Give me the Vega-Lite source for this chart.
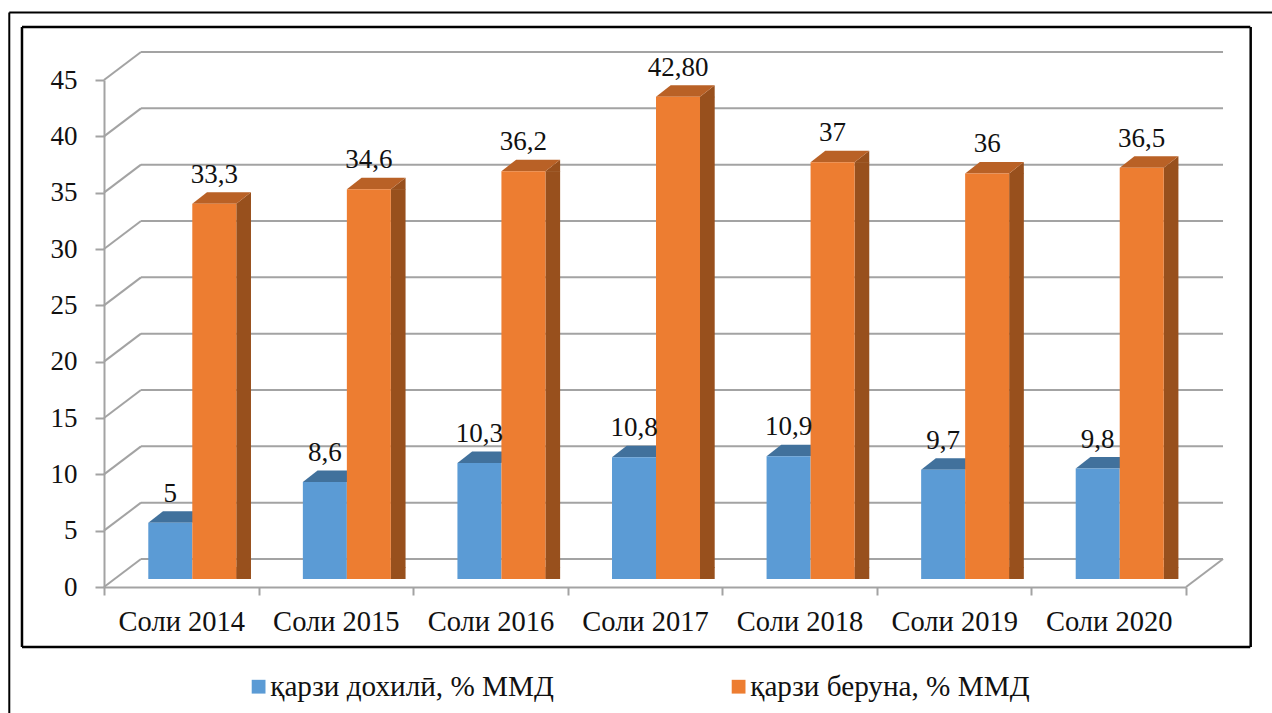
{
"$schema":"https://vega.github.io/schema/vega-lite/v6.json",
"width":1082,"height":507,
"autosize":"none",
"padding":{"left":104,"top":80,"right":86,"bottom":126},
"background":"white",
"config":{"view":{"stroke":null},"font":"Liberation Serif"},
"datasets":{
"bars":[
{"year":"Соли 2014","series":"қарзи дохилӣ, % ММД","value":5,"label":"5"},
{"year":"Соли 2015","series":"қарзи дохилӣ, % ММД","value":8.6,"label":"8,6"},
{"year":"Соли 2016","series":"қарзи дохилӣ, % ММД","value":10.3,"label":"10,3"},
{"year":"Соли 2017","series":"қарзи дохилӣ, % ММД","value":10.8,"label":"10,8"},
{"year":"Соли 2018","series":"қарзи дохилӣ, % ММД","value":10.9,"label":"10,9"},
{"year":"Соли 2019","series":"қарзи дохилӣ, % ММД","value":9.7,"label":"9,7"},
{"year":"Соли 2020","series":"қарзи дохилӣ, % ММД","value":9.8,"label":"9,8"},
{"year":"Соли 2014","series":"қарзи беруна, % ММД","value":33.3,"label":"33,3"},
{"year":"Соли 2015","series":"қарзи беруна, % ММД","value":34.6,"label":"34,6"},
{"year":"Соли 2016","series":"қарзи беруна, % ММД","value":36.2,"label":"36,2"},
{"year":"Соли 2017","series":"қарзи беруна, % ММД","value":42.8,"label":"42,80"},
{"year":"Соли 2018","series":"қарзи беруна, % ММД","value":37,"label":"37"},
{"year":"Соли 2019","series":"қарзи беруна, % ММД","value":36,"label":"36"},
{"year":"Соли 2020","series":"қарзи беруна, % ММД","value":36.5,"label":"36,5"}
],
"grid":[{"g":0},{"g":5},{"g":10},{"g":15},{"g":20},{"g":25},{"g":30},{"g":35},{"g":40},{"g":45}],
"one":[{"k":1}]
},
"layer":[
{"data":{"name":"grid"},
 "mark":{"type":"rule","color":"#A3A3A3","strokeWidth":2,"xOffset":-40.3,"x2Offset":114.3,"yOffset":-28,"y2Offset":-28},
 "encoding":{
  "x":{"datum":"Соли 2014","type":"nominal","scale":{"domain":["Соли 2014","Соли 2015","Соли 2016","Соли 2017","Соли 2018","Соли 2019","Соли 2020"],"paddingInner":0,"paddingOuter":0},
   "axis":{"title":null,"tickBand":"extent","domainColor":"#A3A3A3","domainWidth":2,"tickColor":"#A3A3A3","tickWidth":2,"tickSize":8,"labelAngle":0,"labelFont":"Liberation Serif","labelFontSize":28.5,"labelColor":"#111111","labelPadding":12,"labelLimit":0}},
  "x2":{"datum":"Соли 2020"},
  "y":{"field":"g","type":"quantitative","scale":{"domain":[0,45],"nice":false},
   "axis":{"title":null,"values":[0,5,10,15,20,25,30,35,40,45],"grid":false,"domainColor":"#A3A3A3","domainWidth":2,"tickColor":"#A3A3A3","tickWidth":2,"tickSize":9,"labelFont":"Liberation Serif","labelFontSize":27,"labelColor":"#111111","labelPadding":18}}
 }},
{"data":{"name":"grid"},
 "mark":{"type":"rule","color":"#A3A3A3","strokeWidth":2,"xOffset":-77.3,"x2Offset":-40.3,"y2Offset":-28},
 "encoding":{
  "x":{"datum":"Соли 2014","type":"nominal"},
  "x2":{"datum":"Соли 2014"},
  "y":{"field":"g","type":"quantitative"},
  "y2":{"field":"g"}
 }},
{"data":{"name":"one"},
 "mark":{"type":"rule","color":"#A3A3A3","strokeWidth":2,"xOffset":77.3,"x2Offset":114.3,"y2Offset":-28},
 "encoding":{
  "x":{"datum":"Соли 2020","type":"nominal"},
  "x2":{"datum":"Соли 2020"},
  "y":{"datum":0,"type":"quantitative"},
  "y2":{"datum":0}
 }},
{"data":{"name":"bars"},"transform":[{"filter":"datum.series === 'қарзи дохилӣ, % ММД'"}],
 "mark":{"type":"point","filled":true,"opacity":1,"color":"#41719C","size":10000,"shape":"M-.44,0L.44,0L.734,-.23L-.146,-.23Z","xOffset":-11,"yOffset":-8},
 "encoding":{"x":{"field":"year","type":"nominal"},"y":{"field":"value","type":"quantitative"}}},
{"data":{"name":"bars"},"transform":[{"filter":"datum.series === 'қарзи дохилӣ, % ММД'"}],
 "mark":{"type":"bar","width":44,"xOffset":-11,"yOffset":-8,"y2Offset":-8},
 "encoding":{"x":{"field":"year","type":"nominal"},"y":{"field":"value","type":"quantitative"},
  "color":{"field":"series","type":"nominal","scale":{"domain":["қарзи дохилӣ, % ММД","қарзи беруна, % ММД"],"range":["#5B9BD5","#ED7D31"]},
   "legend":{"title":null,"orient":"none","legendX":140,"legendY":592,"direction":"horizontal","columns":2,"columnPadding":170,"symbolType":"square","symbolSize":190,"symbolStrokeWidth":0,"labelFont":"Liberation Serif","labelFontSize":29.2,"labelColor":"#111111","labelLimit":0,"labelOffset":-3}}}},
{"data":{"name":"bars"},"transform":[{"filter":"datum.series === 'қарзи беруна, % ММД'"}],
 "mark":{"type":"bar","width":14.7,"color":"#98501D","xOffset":62.35,"yOffset":-8,"y2Offset":-19.5},
 "encoding":{"x":{"field":"year","type":"nominal"},"y":{"field":"value","type":"quantitative"}}},
{"data":{"name":"bars"},"transform":[{"filter":"datum.series === 'қарзи беруна, % ММД'"}],
 "mark":{"type":"point","filled":true,"opacity":1,"color":"#98501D","size":10000,"shape":"M0,.01L0,0L.294,-.23L.294,.01Z","xOffset":55,"yOffset":-8},
 "encoding":{"x":{"field":"year","type":"nominal"},"y":{"field":"value","type":"quantitative"}}},
{"data":{"name":"bars"},"transform":[{"filter":"datum.series === 'қарзи беруна, % ММД'"}],
 "mark":{"type":"point","filled":true,"opacity":1,"color":"#98501D","size":10000,"shape":"M0,0L.294,-.23L.294,-.24L0,-.24Z","xOffset":55,"yOffset":-8},
 "encoding":{"x":{"field":"year","type":"nominal"},"y":{"datum":0,"type":"quantitative"}}},
{"data":{"name":"bars"},"transform":[{"filter":"datum.series === 'қарзи беруна, % ММД'"}],
 "mark":{"type":"point","filled":true,"opacity":1,"color":"#B96126","size":10000,"shape":"M-.44,0L.44,0L.734,-.23L-.146,-.23Z","xOffset":33,"yOffset":-8},
 "encoding":{"x":{"field":"year","type":"nominal"},"y":{"field":"value","type":"quantitative"}}},
{"data":{"name":"bars"},"transform":[{"filter":"datum.series === 'қарзи беруна, % ММД'"}],
 "mark":{"type":"bar","width":44,"xOffset":33,"yOffset":-8,"y2Offset":-8},
 "encoding":{"x":{"field":"year","type":"nominal"},"y":{"field":"value","type":"quantitative"},
  "color":{"field":"series","type":"nominal"}}},
{"data":{"name":"bars"},"transform":[{"filter":"datum.series === 'қарзи дохилӣ, % ММД'"}],
 "mark":{"type":"text","font":"Liberation Serif","fontSize":27,"color":"#111111","baseline":"alphabetic","xOffset":-11,"yOffset":-29},
 "encoding":{"x":{"field":"year","type":"nominal"},"y":{"field":"value","type":"quantitative"},"text":{"field":"label"}}},
{"data":{"name":"bars"},"transform":[{"filter":"datum.series === 'қарзи беруна, % ММД'"}],
 "mark":{"type":"text","font":"Liberation Serif","fontSize":27,"color":"#111111","baseline":"alphabetic","xOffset":33,"yOffset":-29},
 "encoding":{"x":{"field":"year","type":"nominal"},"y":{"field":"value","type":"quantitative"},"text":{"field":"label"}}},
{"data":{"name":"one"},"mark":{"type":"rule","color":"black","strokeWidth":2.5,"xOffset":-159.3,"x2Offset":1069,"yOffset":-53,"y2Offset":-53},
 "encoding":{"x":{"datum":"Соли 2014","type":"nominal"},"x2":{"datum":"Соли 2014"},"y":{"datum":45,"type":"quantitative"}}},
{"data":{"name":"one"},"mark":{"type":"rule","color":"black","strokeWidth":2.5,"xOffset":-159.3,"x2Offset":1069,"yOffset":60,"y2Offset":60},
 "encoding":{"x":{"datum":"Соли 2014","type":"nominal"},"x2":{"datum":"Соли 2014"},"y":{"datum":0,"type":"quantitative"}}},
{"data":{"name":"one"},"mark":{"type":"rule","color":"black","strokeWidth":2.5,"xOffset":-159.3,"yOffset":-53,"y2Offset":60},
 "encoding":{"x":{"datum":"Соли 2014","type":"nominal"},"y":{"datum":45,"type":"quantitative"},"y2":{"datum":0}}},
{"data":{"name":"one"},"mark":{"type":"rule","color":"black","strokeWidth":2.5,"xOffset":1069.4,"yOffset":-53,"y2Offset":60},
 "encoding":{"x":{"datum":"Соли 2014","type":"nominal"},"y":{"datum":45,"type":"quantitative"},"y2":{"datum":0}}},
{"data":{"name":"one"},"mark":{"type":"rule","color":"black","strokeWidth":2,"xOffset":-172,"x2Offset":1091,"yOffset":-67.5,"y2Offset":-67.5},
 "encoding":{"x":{"datum":"Соли 2014","type":"nominal"},"x2":{"datum":"Соли 2014"},"y":{"datum":45,"type":"quantitative"}}},
{"data":{"name":"one"},"mark":{"type":"rule","color":"black","strokeWidth":2,"xOffset":-172,"yOffset":-67.5,"y2Offset":130},
 "encoding":{"x":{"datum":"Соли 2014","type":"nominal"},"y":{"datum":45,"type":"quantitative"},"y2":{"datum":0}}}
]
}
